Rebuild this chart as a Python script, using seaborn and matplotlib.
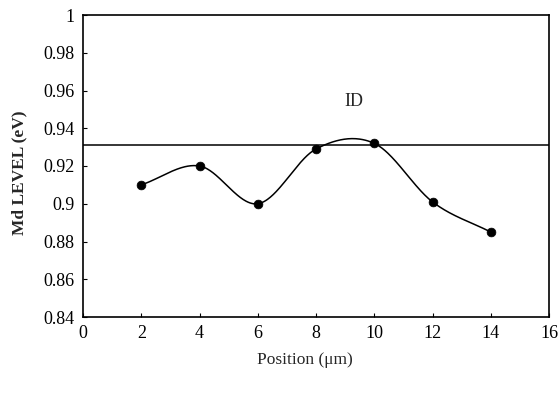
import numpy as np
import matplotlib
matplotlib.use("Agg")
import matplotlib.pyplot as plt
import seaborn as sns
import pandas as pd

# Md level measured along the sample
position = [2, 4, 6, 8, 10, 12, 14]
md_level = [0.910, 0.920, 0.900, 0.929, 0.932, 0.901, 0.885]
id_level = 0.931

x_ticks = [0, 2, 4, 6, 8, 10, 12, 14, 16]
y_ticks = [0.84, 0.86, 0.88, 0.90, 0.92, 0.94, 0.96, 0.98, 1.00]
y_ticklabels = ["0.84", "0.86", "0.88", "0.9", "0.92", "0.94", "0.96", "0.98", "1"]


def smooth_trace(x, y, per_seg=60):
    """Catmull-Rom style Hermite curve through the measured points."""
    x = np.asarray(x, float)
    y = np.asarray(y, float)
    k = len(x)
    m = np.empty(k)
    m[0] = (y[1] - y[0]) / (x[1] - x[0])
    m[-1] = (y[-1] - y[-2]) / (x[-1] - x[-2])
    m[1:-1] = (y[2:] - y[:-2]) / (x[2:] - x[:-2])
    xs, ys = [], []
    for i in range(k - 1):
        h = x[i + 1] - x[i]
        t = np.linspace(0, 1, per_seg, endpoint=(i == k - 2))
        h00 = 2 * t**3 - 3 * t**2 + 1
        h10 = t**3 - 2 * t**2 + t
        h01 = -2 * t**3 + 3 * t**2
        h11 = t**3 - t**2
        xs.append(x[i] + t * h)
        ys.append(h00 * y[i] + h10 * h * m[i] + h01 * y[i + 1] + h11 * h * m[i + 1])
    return np.concatenate(xs), np.concatenate(ys)


sns.set_style("ticks")
plt.rcParams["font.family"] = ["Liberation Serif", "DejaVu Serif"]

fig = plt.figure(figsize=(5.59, 3.96), dpi=100)
ax = fig.add_axes([83 / 559, 1 - 317 / 396, 466 / 559, 302 / 396])

df = pd.DataFrame({"Position": position, "Md": md_level})
xs, ys = smooth_trace(position, md_level)
sns.lineplot(x=xs, y=ys, ax=ax, color="black", linewidth=1.1, sort=False)
sns.scatterplot(data=df, x="Position", y="Md", ax=ax, color="black",
                s=40, edgecolor="black", zorder=3)

ax.axhline(id_level, color="black", linewidth=1.1)
ax.text(9.3, 0.954, "ID", ha="center", va="center", fontsize=13)

ax.set_xlim(0, 16)
ax.set_ylim(0.84, 1.0)
ax.set_xticks(x_ticks)
ax.set_yticks(y_ticks)
ax.set_yticklabels(y_ticklabels)
ax.tick_params(direction="in", length=3, width=0.8, labelsize=13, pad=6, colors="black")
for s in ax.spines.values():
    s.set_linewidth(1.2)
    s.set_color("black")

ax.set_xlabel("Position (μm)", fontsize=12.5)
ax.xaxis.set_label_coords(0.476, -0.115)
ax.set_ylabel("Md LEVEL (eV)", fontsize=12.5, fontweight="bold")
ax.yaxis.set_label_coords(-0.12, 0.477)

fig.savefig("out.png", dpi=100)
